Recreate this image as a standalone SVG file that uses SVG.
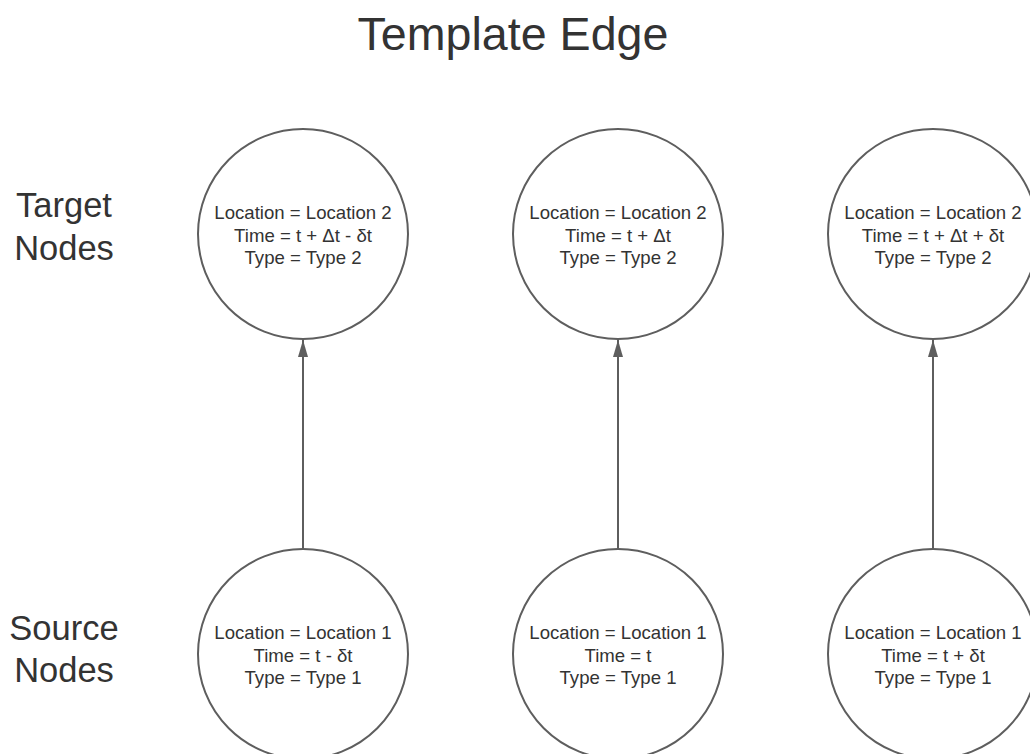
<svg xmlns="http://www.w3.org/2000/svg" width="1030" height="754" viewBox="0 0 1030 754">
<style>
.node{fill:#ffffff;stroke:#5e5e5e;stroke-width:2}
.t{font-family:"Liberation Sans",Arial,sans-serif;fill:#333333;text-anchor:middle}
.body{font-size:18.6px}
.side{font-size:34.5px}
.title{font-size:46.6px}
.edge{stroke:#5e5e5e;stroke-width:2;fill:none}
</style>
<defs>
<marker id="arr" markerUnits="userSpaceOnUse" markerWidth="17" markerHeight="10" refX="17" refY="5" orient="auto" viewBox="0 0 17 10">
<path d="M0,0 L17,5 L0,10 Z" fill="#5e5e5e"/>
</marker>
</defs>
<rect width="1030" height="754" fill="#ffffff"/>
<text class="t title" x="513" y="50">Template Edge</text>
<text class="t side" x="64" y="217">Target</text>
<text class="t side" x="64" y="260">Nodes</text>
<text class="t side" x="64" y="640">Source</text>
<text class="t side" x="64" y="682">Nodes</text>
<g id="connectors">
<line class="edge" x1="303" y1="549" x2="303" y2="340" marker-end="url(#arr)"/>
<line class="edge" x1="618" y1="549" x2="618" y2="340" marker-end="url(#arr)"/>
<line class="edge" x1="933" y1="549" x2="933" y2="340" marker-end="url(#arr)"/>
</g>
<g id="target1">
<circle class="node" cx="303" cy="234" r="105"/>
<text class="t body" x="303" y="219">Location = Location 2</text>
<text class="t body" x="303" y="241.5">Time = t + Δt - δt</text>
<text class="t body" x="303" y="264">Type = Type 2</text>
</g>
<g id="target2">
<circle class="node" cx="618" cy="234" r="105"/>
<text class="t body" x="618" y="219">Location = Location 2</text>
<text class="t body" x="618" y="241.5">Time = t + Δt</text>
<text class="t body" x="618" y="264">Type = Type 2</text>
</g>
<g id="target3">
<circle class="node" cx="933" cy="234" r="105"/>
<text class="t body" x="933" y="219">Location = Location 2</text>
<text class="t body" x="933" y="241.5">Time = t + Δt + δt</text>
<text class="t body" x="933" y="264">Type = Type 2</text>
</g>
<g id="source1">
<circle class="node" cx="303" cy="654" r="105"/>
<text class="t body" x="303" y="639">Location = Location 1</text>
<text class="t body" x="303" y="661.5">Time = t - δt</text>
<text class="t body" x="303" y="684">Type = Type 1</text>
</g>
<g id="source2">
<circle class="node" cx="618" cy="654" r="105"/>
<text class="t body" x="618" y="639">Location = Location 1</text>
<text class="t body" x="618" y="661.5">Time = t</text>
<text class="t body" x="618" y="684">Type = Type 1</text>
</g>
<g id="source3">
<circle class="node" cx="933" cy="654" r="105"/>
<text class="t body" x="933" y="639">Location = Location 1</text>
<text class="t body" x="933" y="661.5">Time = t + δt</text>
<text class="t body" x="933" y="684">Type = Type 1</text>
</g>
</svg>
